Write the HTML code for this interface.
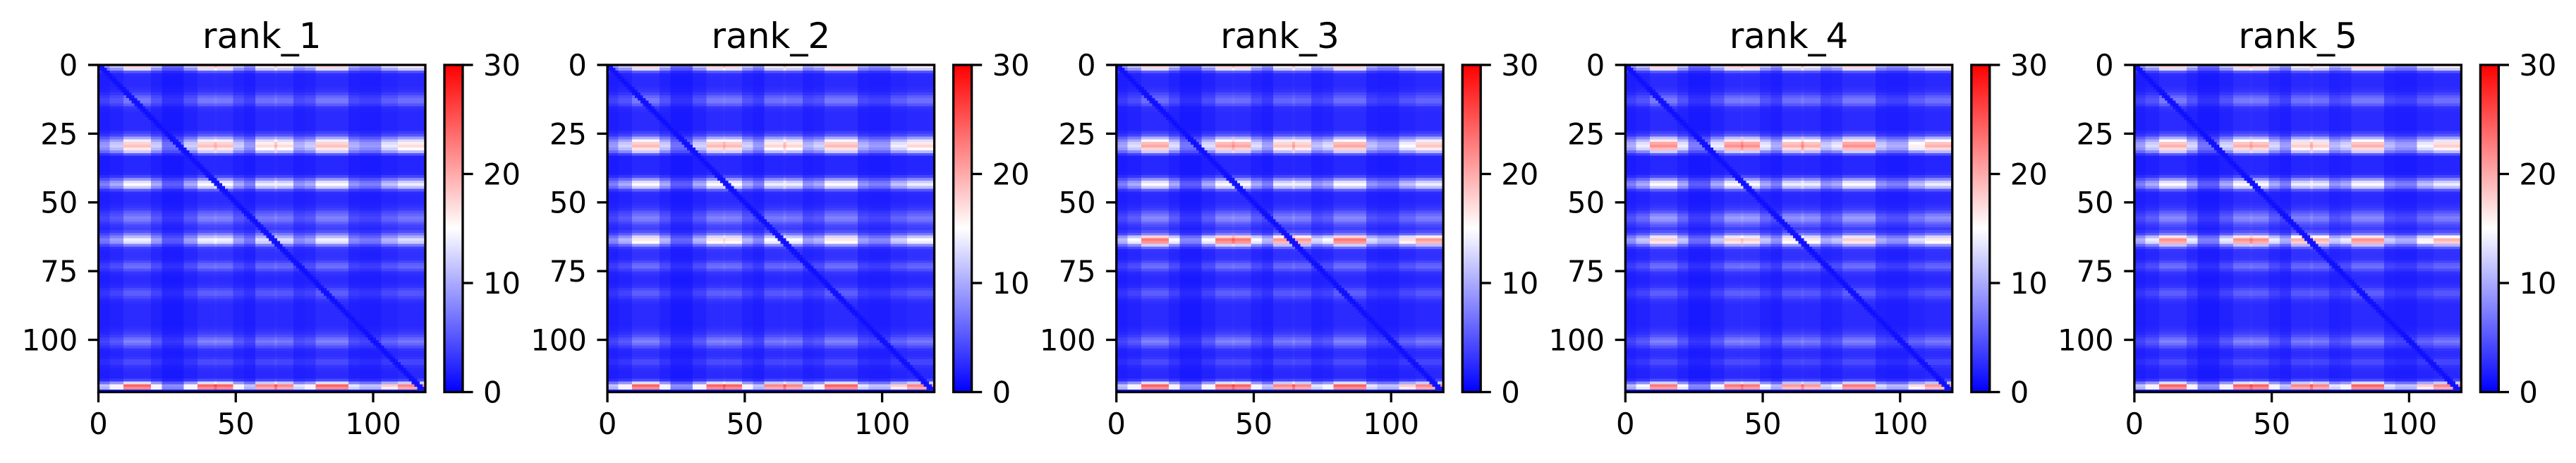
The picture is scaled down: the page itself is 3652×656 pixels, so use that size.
<!DOCTYPE html>
<html><head><meta charset="utf-8">
<style>
html,body{margin:0;padding:0;background:#fff;}
#fig{position:relative;width:3652px;height:656px;overflow:hidden;background:#fff;}
canvas.hm{position:absolute;width:463.5px;height:463.5px;image-rendering:pixelated;}
svg{position:absolute;left:0;top:0;}
text{font-family:"DejaVu Sans","Liberation Sans",sans-serif;fill:#000;}
</style></head>
<body>
<div id="fig">
<svg id="svg" width="3652" height="656"></svg>
</div>
<script>
// ---- data ----
const panelTitles = ["rank_1","rank_2","rank_3","rank_4","rank_5"];
const xTicks = [0,50,100];
const yTicks = [0,25,50,75,100];
const cbTicks = [0,10,20,30];
const N = 119;
const vmin = 0, vmax = 30;
// row intensity profile (value at a column with profile 1)
const rowProfile = [16,12,5,2.6,2.4,2.4,2.4,2.4,2.6,3,4,5.5,6.5,6.5,5,3,2.6,2.4,2.4,2.4,2.4,2.4,2.4,2.4,3.5,5,9,13,16,17,
15,11,5,2.2,2.2,2.2,2.2,2.2,2.2,2.4,4,8,12,14,11,5,2.6,2.4,2.4,2.4,2.6,3,3.5,5,6,7,6.5,5,4,3.5,
4.5,7,10,13,12,7,3.5,3,2.8,2.8,3,4,5.5,6,4.5,3,2.6,2.4,2.4,2.6,3,4,5,5,4,3,2.6,2.4,2.4,2.4,
2.4,2.4,2.4,2.4,2.4,2.6,3,3.5,4.5,6,7,6,4.5,3,2.6,2.6,3,4,4,3,2.6,2.4,2.4,2.4,4,12,22,20];
// column modulation profile
const colProfile = [0.5,0.5,0.5,0.5,0.7,0.7,0.7,0.7,0.7,1.1,1.1,1.1,1.1,1.1,1.1,1.1,1.1,1.1,1.1,0.7,
0.7,0.7,0.7,0.35,0.35,0.35,0.35,0.35,0.35,0.35,0.35,0.7,0.7,0.7,0.7,0.7,1.1,1.1,1.1,1.1,
1.1,1.1,1.2,1.1,1.1,1.1,1.1,1.1,1.1,0.7,0.7,0.7,0.7,0.5,0.5,0.5,0.5,1.0,1.0,1.0,
1.0,1.0,1.0,1.0,1.15,1.0,1.0,1.0,1.0,1.0,1.0,0.6,0.6,0.6,0.6,0.7,0.7,0.7,0.7,1.1,
1.1,1.1,1.1,1.1,1.1,1.1,1.1,1.1,1.1,1.1,1.1,0.6,0.6,0.6,0.6,0.5,0.5,0.5,0.5,0.5,
0.5,0.5,0.5,0.8,0.8,0.8,0.8,0.8,0.8,1.0,1.0,1.0,1.0,1.0,1.0,1.0,1.0,1.0,1.0];
// band centres and per-panel gains
const bandRows = [0,13,28,43,56,64,73,84,100,117];
const gainRank1 = [1,1,1,1,1,1,1,1,1,1];
const gainRank2 = [1,1,1.02,1,1,1.15,1,1,1,1];
const gainRank3 = [1,0.9,1.08,1,1.05,1.6,1,1,1,1];
const gainRank4 = [1,1,1.15,1,1.2,1.25,1,1,1,0.95];
const gainRank5 = [1,1,1.05,1,1.05,1.5,1,1,1,1];
const panelGains = [gainRank1,gainRank2,gainRank3,gainRank4,gainRank5];

// ---- layout ----
const AX0 = 139.5, AY0 = 92, AS = 463.5, DX = 721.6;
const CBX = 630, CBW = 26;
const NS = "http://www.w3.org/2000/svg";
const svg = document.getElementById('svg');
const fig = document.getElementById('fig');

function bwr(v){
  let t = Math.max(0, Math.min(1, (v - vmin) / (vmax - vmin)));
  let r,g,b;
  if (t < 0.5){ const s = t/0.5; r = Math.round(255*s); g = r; b = 255; }
  else { const s = (t-0.5)/0.5; r = 255; g = Math.round(255*(1-s)); b = g; }
  return `rgb(${r},${g},${b})`;
}
function gainFor(i, gains){
  let g = 1;
  for (let k = 0; k < bandRows.length; k++){
    if (Math.abs(i - bandRows[k]) <= 2) g = gains[k];
  }
  return g;
}
function mk(tag, attrs, parent){
  const e = document.createElementNS(NS, tag);
  for (const k in attrs) e.setAttribute(k, attrs[k]);
  (parent||svg).appendChild(e);
  return e;
}

for (let p = 0; p < 5; p++){
  const ox = AX0 + p*DX;
  const xs = v => ox + v / N * AS;
  const ys = v => AY0 + v / N * AS;
  const gains = panelGains[p];

  const cv = document.createElement('canvas');
  
  
  cv.className = 'hm';
  cv.width = N; cv.height = N;
  cv.style.left = ox + 'px'; cv.style.top = AY0 + 'px';
  const ctx = cv.getContext('2d');
  for (let i = 0; i < N; i++){
    const rv = rowProfile[i] * gainFor(i, gains);
    for (let j = 0; j < N; j++){
      let v = 1.0 + (rv - 1.0) * colProfile[j];
      const d = Math.abs(i - j);
      if (d <= 1) v = Math.min(v, 0.8 + d*0.5);
      ctx.fillStyle = bwr(v);
      ctx.fillRect(j, i, 1, 1);
    }
  }
  fig.insertBefore(cv, svg);

  const g = mk('g', {});
  
  

  const fr = mk('rect', {x: ox, y: AY0, width: AS, height: AS, fill: 'none', stroke: '#000', 'stroke-width': 3.3}, g);
  
  

  const tt = mk('text', {x: ox + AS/2, y: 68, 'text-anchor': 'middle', 'font-size': 50}, g);
  tt.textContent = panelTitles[p];
  
  

  xTicks.forEach(v => {
    const x = xs(v);
    const tl = mk('line', {x1: x, x2: x, y1: AY0+AS, y2: AY0+AS+14.6, stroke: '#000', 'stroke-width': 3.3}, g);
    
    
    const t = mk('text', {x: x, y: 615, 'text-anchor': 'middle', 'font-size': 41.7}, g);
    t.textContent = v;
    
    
  });
  yTicks.forEach(v => {
    const y = ys(v);
    const tl = mk('line', {x1: ox-14.6, x2: ox, y1: y, y2: y, stroke: '#000', 'stroke-width': 3.3}, g);
    
    
    const t = mk('text', {x: ox-29.2, y: y + 15, 'text-anchor': 'end', 'font-size': 41.7}, g);
    t.textContent = v;
    
    
  });

  const cx = CBX + p*DX;
  const gid = 'cbg' + p;
  const defs = mk('defs', {}, g);
  const lg = mk('linearGradient', {id: gid, x1: 0, y1: 1, x2: 0, y2: 0}, defs);
  for (let s = 0; s <= 10; s++){
    mk('stop', {offset: s/10, 'stop-color': bwr(vmin + (vmax-vmin)*s/10)}, lg);
  }
  const cb = mk('rect', {x: cx, y: AY0, width: CBW, height: AS, fill: `url(#${gid})`, stroke: '#000', 'stroke-width': 3.3}, g);
  
  
  const cys = v => AY0 + AS - (v - vmin)/(vmax - vmin) * AS;
  cbTicks.forEach(v => {
    const y = cys(v);
    const tl = mk('line', {x1: cx+CBW, x2: cx+CBW+14.6, y1: y, y2: y, stroke: '#000', 'stroke-width': 3.3}, g);
    
    
    const t = mk('text', {x: cx+CBW+29, y: y + 15, 'text-anchor': 'start', 'font-size': 41.7}, g);
    t.textContent = v;
    
    
  });
}
</script>
</body></html>
